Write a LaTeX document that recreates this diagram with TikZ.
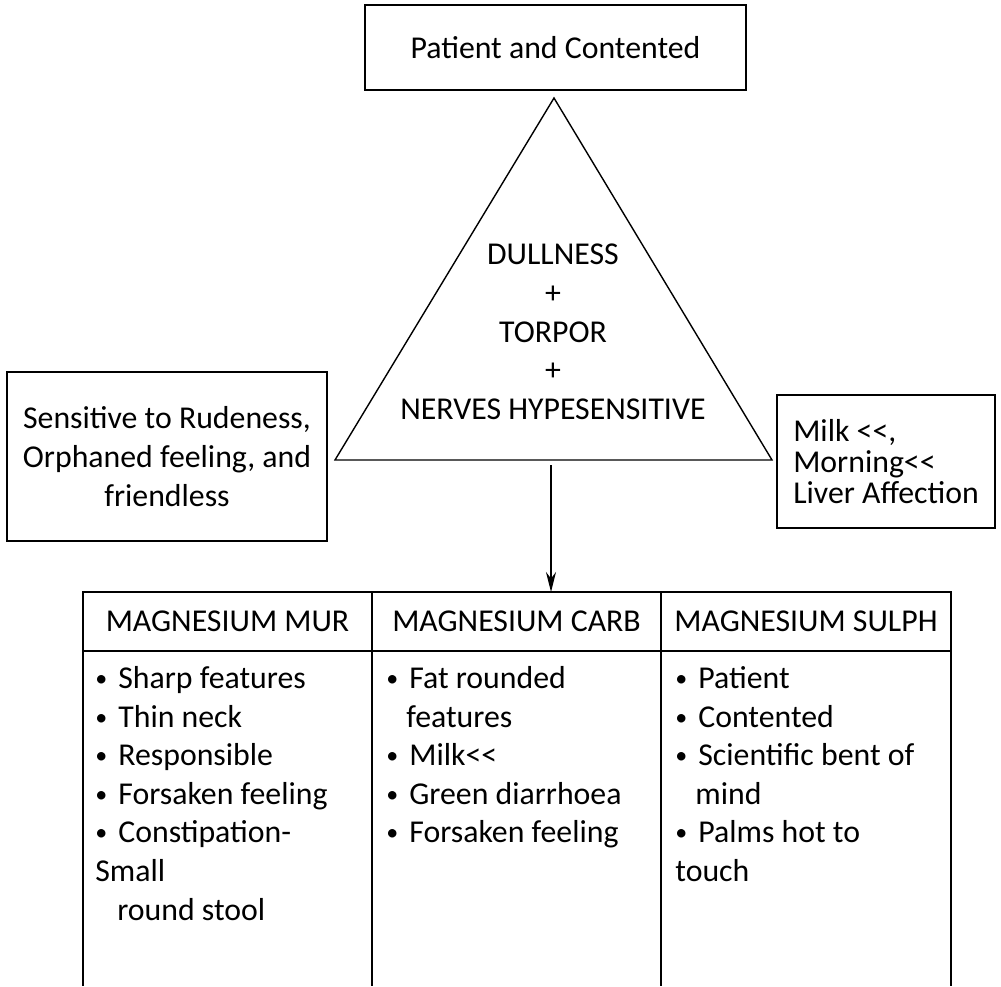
\documentclass[tikz,border=0pt]{standalone}
\usepackage{fontspec}
\setmainfont{Carlito}[Ligatures=TeXOff]
\usetikzlibrary{positioning,arrows.meta}

% small list bullet
\newcommand{\bitem}{\raisebox{1pt}{\fontsize{12}{12}\selectfont•}\hspace{5.5pt}}

\begin{document}
\begin{tikzpicture}[
	x=0.5pt, y=-0.5pt,
	font=\fontsize{15.9}{19.3}\selectfont,
	>={Stealth[length=10pt,width=5pt]},
	box/.style={
		draw=black,
		line width=0.9pt,
		inner sep=0pt,
		outer sep=0pt,
		align=center
	},
	headcell/.style={
		box,
		minimum height=29.5pt
	},
	bodylist/.style={
		inner sep=0pt,
		align=left
	},
	rule/.style={
		line width=0.9pt
	}
	]
	\useasboundingbox (0,0) rectangle (1001,986);
	
	% top box
	\node[box, minimum width=190.5pt, minimum height=42.5pt] (patient) at (555.5,47.5)
	{Patient and Contented};
	
	% triangle
	\coordinate (apex) at (554,98);
	\coordinate (baseL) at (335,460);
	\coordinate (baseR) at (772,460);
	\draw[line width=0.7pt] (apex) -- (baseL) -- (baseR) -- cycle;
	\node[align=center, font=\fontsize{15.9}{19.35}\selectfont] (core) at (553,332)
	{DULLNESS\\+\\TORPOR\\+\\NERVES HYPESENSITIVE};
	
	% side boxes
	\node[box, minimum width=160pt, minimum height=84.5pt,
	font=\fontsize{15.9}{19.5}\selectfont] (rude) at (167,456.5)
	{Sensitive to Rudeness,\\Orphaned feeling, and\\friendless};
	\node[box, minimum width=109pt, minimum height=66.5pt, align=left,
	font=\fontsize{15.9}{15.6}\selectfont] (milk) at (886,461.5)
	{Milk <<,\\Morning<<\\Liver Affection};
	
	% table
	\node[headcell, minimum width=144.5pt] (mur) at (227.5,621.5) {MAGNESIUM MUR};
	\node[headcell, minimum width=144.5pt, right=0pt of mur] (carb) {MAGNESIUM CARB};
	\node[headcell, minimum width=145pt, right=0pt of carb] (sulph) {MAGNESIUM SULPH};
	
	\coordinate (floor) at (500,986);
	\foreach \col in {mur,carb,sulph} {
		\draw[rule] (\col.south west) -- (\col.south west |- floor);
	}
	\draw[rule] (sulph.south east) -- (sulph.south east |- floor);
	
	\node[bodylist, below right=7.5pt and 6pt of mur.south west] (murlist)
	{\bitem Sharp features\\\bitem Thin neck\\\bitem Responsible\\\bitem Forsaken feeling\\\bitem Constipation-\\Small\\\hspace*{11pt}round stool};
	\node[bodylist, below right=7.5pt and 7pt of carb.south west] (carblist)
	{\bitem Fat rounded\\\hspace*{10pt}features\\\bitem Milk<<\\\bitem Green diarrhoea\\\bitem Forsaken feeling};
	\node[bodylist, below right=7.5pt and 7pt of sulph.south west] (sulphlist)
	{\bitem Patient\\\bitem Contented\\\bitem Scientific bent of\\\hspace*{10pt}mind\\\bitem Palms hot to\\touch};
	
	% arrow
	\coordinate (stem) at (551,465);
	\draw[->, line width=0.8pt] (stem) -- (stem |- carb.north);
\end{tikzpicture}
\end{document}
